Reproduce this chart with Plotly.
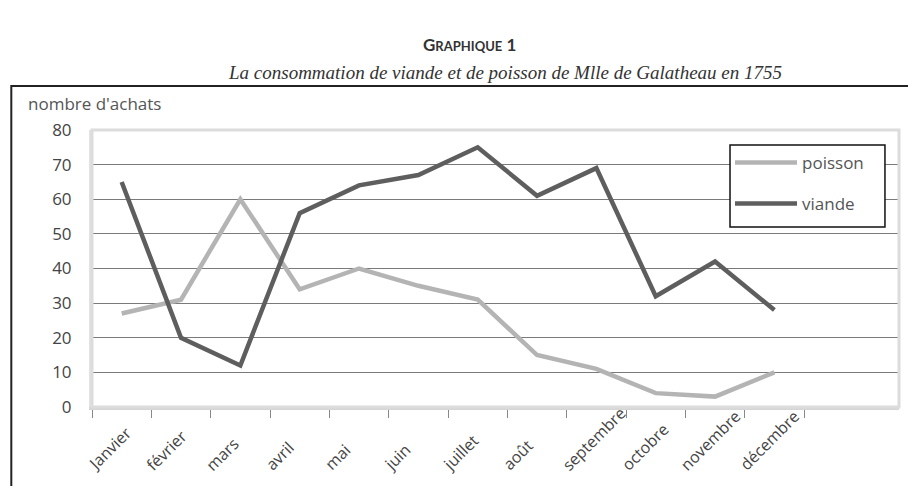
import plotly.graph_objects as go

mois = ["Janvier", "février", "mars", "avril", "mai", "juin", "juillet",
        "août", "septembre", "octobre", "novembre", "décembre"]
poisson = [27, 31, 60, 34, 40, 35, 31, 15, 11, 4, 3, 10]
viande = [65, 20, 12, 56, 64, 67, 75, 61, 69, 32, 42, 28]
y_ticks = [0, 10, 20, 30, 40, 50, 60, 70, 80]

fig = go.Figure()

fig.add_trace(go.Scatter(
    x=mois, y=poisson, mode="lines", name="poisson",
    line=dict(color="#b4b4b4", width=4.5),
    legendgroup="p",
))
fig.add_trace(go.Scatter(
    x=mois, y=viande, mode="lines", name="viande",
    line=dict(color="#5e5e5e", width=4.5),
    legendgroup="v",
))

# the page body adds an 8px margin, so the figure is 8px smaller than the window
fig.update_layout(
    width=908, height=478,
    margin=dict(l=84, r=17, t=122, b=79),
    paper_bgcolor="white", plot_bgcolor="white",
    font=dict(family="Open Sans, sans-serif", color="#444", size=13),
    showlegend=True,
    legend=dict(
        x=0.7906, y=0.946, xanchor="left", yanchor="top",
        borderwidth=0, bgcolor="rgba(0,0,0,0)",
        font=dict(size=17, color="#555"),
        itemwidth=62, tracegroupgap=16,
    ),
)

fig.update_xaxes(
    type="category", range=[-0.5, 13.1],
    tickson="boundaries", ticks="outside", ticklen=8, tickcolor="#888",
    showticklabels=False, showgrid=False,
    showline=True, linecolor="#d6d6d6", linewidth=3,
)
fig.update_yaxes(
    range=[0, 80], tickvals=y_ticks,
    showgrid=True, gridcolor="#7a7a7a", gridwidth=1.2,
    zeroline=False, showline=True, linecolor="#e2e2e2", linewidth=3,
    ticklabelstandoff=14, tickfont=dict(size=17, color="#444"),
)

# month labels, slanted and sitting on a common baseline
for m in mois:
    fig.add_annotation(text=m, x=m, xref="x", yref="paper", y=-0.256,
                       xanchor="left", yanchor="bottom", xshift=-42,
                       textangle=-45, showarrow=False,
                       font=dict(size=16, color="#444"))

# light frame round the plot area
fig.add_shape(type="rect", xref="paper", yref="paper", x0=0, x1=1, y0=0, y1=1,
              line=dict(color="#dcdcdc", width=3), layer="above")
# legend box, white so the gridlines stop at its edge
fig.add_shape(type="rect", xref="paper", yref="paper", x0=0.7906, x1=0.9826, y0=0.650, y1=0.946,
              line=dict(color="#111", width=1.5), fillcolor="white", layer="above")
# outer black frame
fig.add_shape(type="rect", xref="paper", yref="paper", x0=-0.1, x1=1.05, y0=-0.35, y1=1.159,
              line=dict(color="#222", width=2))

fig.add_annotation(text="nombre d'achats", xref="paper", yref="paper",
                   x=-0.082, y=1.094, xanchor="left", yanchor="middle", showarrow=False,
                   font=dict(size=17, color="#555"))

fig.add_annotation(
    text="<b>G<span style='font-size:13px'>RAPHIQUE</span> 1</b>",
    xref="paper", yref="paper", x=0.468, y=1.307, xanchor="center", yanchor="middle",
    showarrow=False, font=dict(family="Lato, sans-serif", size=17, color="#333"))
fig.add_annotation(
    text="<i>La consommation de viande et de poisson de Mlle de Galatheau en 1755</i>",
    xref="paper", yref="paper", x=0.512, y=1.209, xanchor="center", yanchor="middle",
    showarrow=False, font=dict(family="Liberation Serif, serif", size=19, color="#333"))

fig.write_html("out.html")
